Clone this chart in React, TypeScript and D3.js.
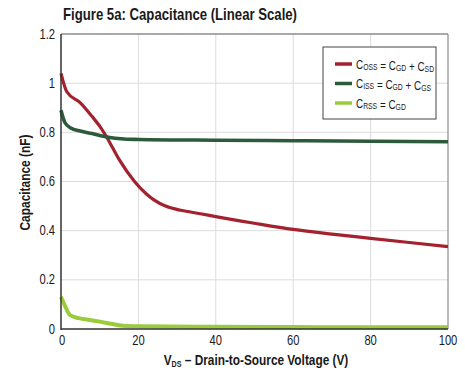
import React from "react";
import * as d3 from "d3";

const cossV = [0, 1.5, 5, 8, 10, 12, 15, 19, 22, 24, 27, 31, 36, 40, 50, 60, 70, 80, 90, 100];
const cossC = [1.04, 0.965, 0.92, 0.865, 0.825, 0.775, 0.69, 0.6, 0.55, 0.525, 0.5, 0.483, 0.469, 0.457, 0.43, 0.405, 0.386, 0.369, 0.352, 0.335];
const cissV = [0, 1, 2.5, 5, 8, 11, 14, 17, 20, 40, 60, 80, 100];
const cissC = [0.89, 0.84, 0.818, 0.805, 0.795, 0.784, 0.776, 0.772, 0.771, 0.768, 0.766, 0.764, 0.762];
const crssV = [0, 1, 2.3, 4.5, 7, 10, 13, 16, 20, 40, 60, 80, 100];
const crssC = [0.131, 0.095, 0.057, 0.044, 0.038, 0.03, 0.021, 0.013, 0.011, 0.009, 0.008, 0.007, 0.007];
const xTicks = [0, 20, 40, 60, 80, 100];
const yTicks = [0, 0.2, 0.4, 0.6, 0.8, 1, 1.2];

const FONT = "'Liberation Sans', Arial, sans-serif";
const SX = 0.8;

type Pt = [number, number];
const zip = (a: number[], b: number[]): Pt[] => a.map((v, i) => [v, b[i]]);

function Sub({ main, sub }: { main: string; sub: string }) {
  return (
    <>
      <tspan>{main}</tspan>
      <tspan fontSize={9} dy={1}>{sub}</tspan>
      <tspan dy={-1}>{""}</tspan>
    </>
  );
}

function NText({ x, y, anchor, size, bold, children }: any) {
  return (
    <g transform={`translate(${x},${y}) scale(${SX},1)`}>
      <text x={0} y={0} fontSize={size} fontWeight={bold ? "bold" : "normal"} textAnchor={anchor} fill="#1a1a1a">
        {children}
      </text>
    </g>
  );
}

export default function App() {
  const W = 465, H = 374;
  const L = 61, R = 448, T = 34, B = 329;
  const x = d3.scaleLinear().domain([0, 100]).range([L, R]);
  const y = d3.scaleLinear().domain([0, 1.2]).range([B, T]);
  const line = d3.line<Pt>().x(d => x(d[0])).y(d => y(d[1])).curve(d3.curveMonotoneX);

  const series = [
    { data: zip(cossV, cossC), color: "#a3222f", w: 3.2 },
    { data: zip(cissV, cissC), color: "#2e5a3c", w: 3.6 },
    { data: zip(crssV, crssC), color: "#9acb3a", w: 4 },
  ];

  const legendRows = [
    { color: "#a3222f", a: ["C", "OSS"], b: ["C", "GD"], c: ["C", "SD"] },
    { color: "#2e5a3c", a: ["C", "ISS"], b: ["C", "GD"], c: ["C", "GS"] },
    { color: "#9acb3a", a: ["C", "RSS"], b: ["C", "GD"], c: null as null | string[] },
  ];

  return (
    <svg width={W} height={H} style={{ position: "absolute", left: 0, top: 0, display: "block", background: "#fff" }} fontFamily={FONT}>
      <text x={63} y={20} fontSize={17} fontWeight="bold" fill="#1a1a1a" textLength={234} lengthAdjust="spacingAndGlyphs">
        Figure 5a: Capacitance (Linear Scale)
      </text>

      {/* grid */}
      {xTicks.slice(1, -1).map(t => (
        <line key={"gx" + t} x1={x(t)} x2={x(t)} y1={T} y2={B} stroke="#dcdcdc" strokeWidth={1} />
      ))}
      {yTicks.slice(1, -1).map(t => (
        <line key={"gy" + t} x1={L} x2={R} y1={y(t)} y2={y(t)} stroke="#dcdcdc" strokeWidth={1} />
      ))}

      {/* frame */}
      <line x1={L} x2={R} y1={T} y2={T} stroke="#555" strokeWidth={1} />
      <line x1={R} x2={R} y1={T} y2={B} stroke="#777" strokeWidth={1} />

      {series.map((s, i) => (
        <path key={i} d={line(s.data) || ""} fill="none" stroke={s.color} strokeWidth={s.w} strokeLinejoin="round" strokeLinecap="butt" />
      ))}

      <line x1={L} x2={L} y1={T} y2={B + 1} stroke="#333" strokeWidth={1.5} />
      <line x1={L} x2={R} y1={B} y2={B} stroke="#333" strokeWidth={1.5} />

      {/* y ticks */}
      {yTicks.map(t => (
        <NText key={"ty" + t} x={55} y={y(t) + 4.5} size={14} anchor="end">
          {d3.format("~g")(t)}
        </NText>
      ))}
      {/* x ticks */}
      {xTicks.map(t => (
        <NText key={"tx" + t} x={x(t) + (t === 0 ? 1 : 0)} y={345} size={14} anchor="middle">
          {t}
        </NText>
      ))}

      <g transform={`translate(30,${(T + B) / 2 + 1}) rotate(-90)`}>
        <text x={0} y={0} fontSize={14} fontWeight="bold" textAnchor="middle" fill="#1a1a1a" textLength={96} lengthAdjust="spacingAndGlyphs">
          Capacitance (nF)
        </text>
      </g>

      <g transform="translate(256,365) scale(0.79,1)">
        <text x={0} y={0} fontSize={15} fontWeight="bold" fill="#1a1a1a" textAnchor="middle">
          <tspan>V</tspan>
          <tspan fontSize={9} dy={2}>DS</tspan>
          <tspan dy={-2}> – Drain-to-Source Voltage (V)</tspan>
        </text>
      </g>

      {/* legend */}
      <rect x={323} y={47} width={113} height={72} fill="#fff" stroke="#444" strokeWidth={1} />
      {legendRows.map((r, i) => {
        const yy = 64 + i * 19.5;
        return (
          <g key={i}>
            <line x1={335} x2={352} y1={yy} y2={yy} stroke={r.color} strokeWidth={3.5} />
            <g transform={`translate(356,${yy + 4.5}) scale(0.76,1)`}>
              <text x={0} y={0} fontSize={13} fill="#1a1a1a">
                <Sub main={r.a[0]} sub={r.a[1]} />
                <tspan> = </tspan>
                <Sub main={r.b[0]} sub={r.b[1]} />
                {r.c ? (
                  <>
                    <tspan> + </tspan>
                    <Sub main={r.c[0]} sub={r.c[1]} />
                  </>
                ) : null}
              </text>
            </g>
          </g>
        );
      })}
    </svg>
  );
}
